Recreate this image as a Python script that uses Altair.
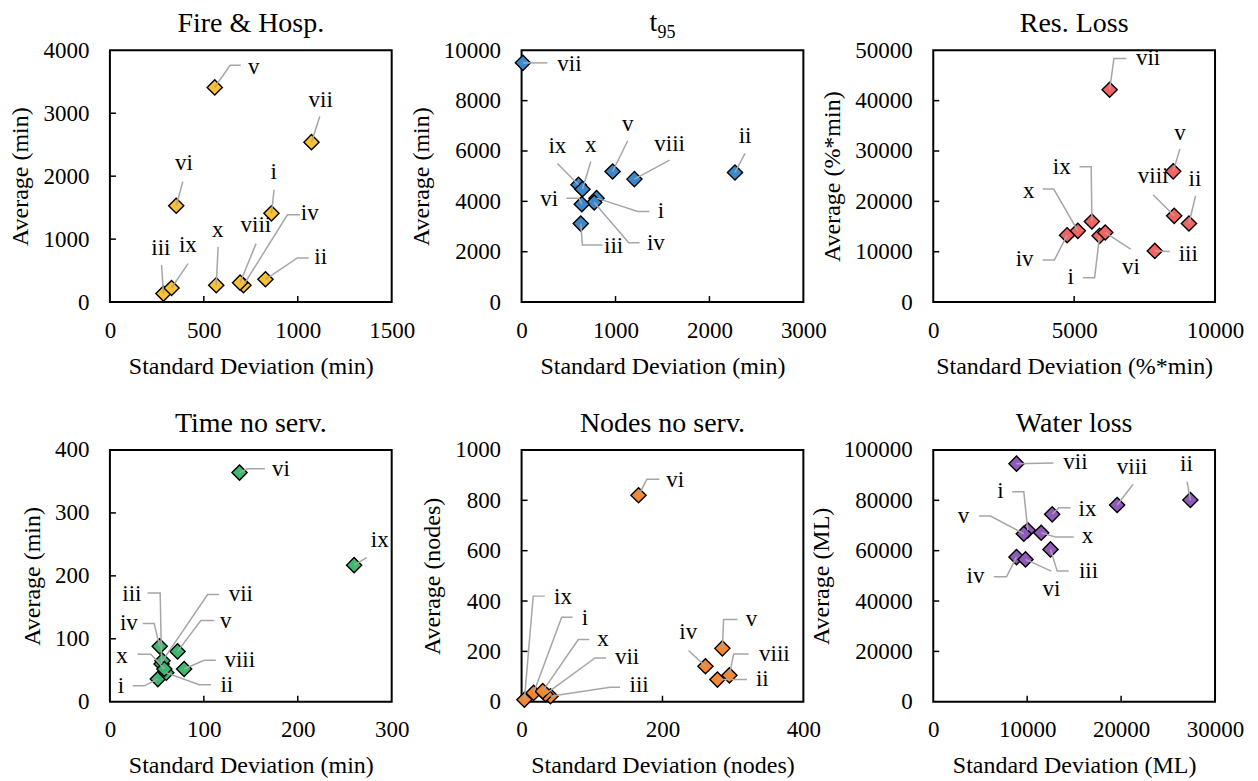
import altair as alt
import pandas as pd

FONT = "Liberation Serif"
W, H = 282, 252
names = ["i", "ii", "iii", "iv", "v", "vi", "vii", "viii", "ix", "x"]

# ---- Fire & Hosp. ----
fire_sd = [860, 828, 285, 711, 558, 353, 1073, 693, 328, 566]
fire_avg = [1410, 362, 135, 268, 3410, 1530, 2540, 308, 223, 268]
fire_lab_x = [872, 1122, 271, 1064, 766, 394, 1122, 777, 415, 574]
fire_lab_y = [2040, 685, 829, 1387, 3698, 2184, 3172, 1196, 877, 1116]
fire_bend_x = [874, 998, 275, 945, 640, 388, 1117, 778, 416, 576]
fire_bend_y = [1785, 701, 590, 1387, 3762, 1913, 2949, 929, 610, 877]
fire_end_x = [874, 1058, 275, 1012, 697, 388, 1117, 778, 416, 576]

# ---- t95 ----
t95_sd = [798, 2272, 630, 773, 969, 641, 14, 1201, 606, 648]
t95_avg = [4127, 5146, 3117, 3953, 5186, 3888, 9500, 4883, 4657, 4485]
t95_lab_x = [1483, 2379, 980, 1430, 1130, 295, 509, 1576, 381, 737]
t95_lab_y = [3542, 6515, 2149, 2269, 7005, 4020, 9393, 6209, 6117, 6169]
t95_bend_x = [1237, 2379, 648, 1141, 1130, 613, 274, 1576, 381, 737]
t95_bend_y = [3594, 5902, 2269, 2360, 6408, 4127, 9500, 5640, 5504, 5584]
t95_end_x = [1362, 2379, 862, 1255, 1130, 477, 274, 1576, 381, 737]

# ---- Res. Loss ----
res_sd = [5904, 9075, 7863, 4750, 8516, 6104, 6260, 8551, 5630, 5131]
res_avg = [13147, 15600, 10160, 13280, 25960, 13810, 42170, 17130, 16000, 14143]
res_lab_x = [4881, 9289, 9050, 3242, 8754, 7019, 7625, 7803, 4561, 3385]
res_lab_y = [4582, 24100, 9163, 8167, 33266, 6574, 48007, 24641, 26494, 21713]
res_bend_x = [5726, 9310, 8398, 4300, 8754, 7008, 6413, 7803, 5605, 4276]
res_bend_y = [4841, 21115, 10020, 8366, 30418, 10498, 48346, 21314, 26892, 22450]
res_end_x = [5309, 9310, 8398, 3884, 8754, 7008, 6852, 7803, 5191, 3884]

# ---- Time no serv. ----
time_sd = [51, 60, 55, 53, 72, 138, 56, 79, 260, 58]
time_avg = [36, 46, 60, 88, 80, 364, 65, 52, 217, 52]
time_lab_x = [11.7, 124.4, 23.4, 20.2, 123.4, 182, 139.4, 138.3, 287.3, 12.8]
time_lab_y = [22.1, 23.7, 167.5, 121.7, 124.8, 366.6, 167.5, 63.2, 254.4, 69.5]
time_bend_x = [36.5, 95, 53.5, 47.1, 96.8, 146.5, 104, 100.3, 273.4, 43.6]
time_bend_y = [25.3, 26.9, 172.7, 124.3, 129.1, 370.2, 170.2, 65.9, 229, 75.4]
time_end_x = [24.2, 107.5, 40.1, 34.8, 111, 165, 116.3, 112.8, 273.4, 29.5]

# ---- Nodes no serv. ----
nodes_sd = [17, 278, 41, 261, 285, 166, 34, 295, 4, 30]
nodes_avg = [35, 88, 22, 141, 212, 820, 30, 105, 8, 42]
nodes_lab_x = [90, 341.8, 166.9, 236.6, 326.2, 218, 149.8, 358.9, 58.7, 115.6]
nodes_lab_y = [324, 81.5, 57.6, 268.4, 320, 872.7, 169, 181, 407.5, 240.5]
nodes_bend_x = [56.9, 320, 125.6, 237, 286.8, 177.8, 104.3, 301, 16.5, 80.5]
nodes_bend_y = [336, 88.3, 57.6, 203.6, 326.8, 883.5, 174.2, 190, 419.5, 247.3]
nodes_end_x = [72.5, 320, 139.8, 237, 306.7, 195.7, 119.9, 322.3, 33.1, 96.2]

# ---- Water loss ----
water_sd = [10065, 27377, 12481, 8863, 9640, 9821, 8863, 19578, 12662, 11491]
water_avg = [68070, 80116, 60514, 57453, 66718, 56538, 94550, 78130, 74430, 67115]
water_lab_x = [7161, 26951, 16524, 4501, 3224, 12587, 15141, 21174, 16418, 16418]
water_lab_y = [82900, 93636, 51091, 49102, 72960, 43935, 94430, 92323, 75743, 65008]
water_bend_x = [9640, 27026, 13194, 7799, 6097, 12555, 12800, 21280, 13364, 13013]
water_bend_y = [83416, 87392, 51887, 49620, 73755, 51887, 94827, 86359, 77055, 65406]
water_end_x = [8406, 27026, 14428, 6448, 4852, 12555, 12800, 21280, 14609, 14960]


def panel(sd, avg, lx, ly, bx, by, ex, xmax, xstep, ymax, ystep,
          xtitle, ytitle, color, title=None, extra=None):
    pts = pd.DataFrame({"name": names, "sd": sd, "avg": avg})
    rows = []
    for i, n in enumerate(names):
        rows.append({"name": n, "k": 0, "sd": sd[i], "avg": avg[i]})
        rows.append({"name": n, "k": 1, "sd": bx[i], "avg": by[i]})
        rows.append({"name": n, "k": 2, "sd": ex[i], "avg": by[i]})
    lead = pd.DataFrame(rows)
    labs = pd.DataFrame({"name": names, "sd": lx, "avg": ly})
    xvals = list(range(0, xmax + 1, xstep))
    yvals = list(range(0, ymax + 1, ystep))
    X = alt.X("sd:Q", scale=alt.Scale(domain=[0, xmax], nice=False, zero=False),
              axis=alt.Axis(values=xvals, title=xtitle, format="d"))
    Y = alt.Y("avg:Q", scale=alt.Scale(domain=[0, ymax], nice=False, zero=False),
              axis=alt.Axis(values=yvals, title=ytitle, format="d"))
    xt = alt.Chart(pd.DataFrame({"sd": xvals[1:-1]})).mark_rule(
        color="black", strokeWidth=1.5).encode(x=X, y=alt.value(H), y2=alt.value(H - 6))
    yt = alt.Chart(pd.DataFrame({"avg": yvals[1:-1]})).mark_rule(
        color="black", strokeWidth=1.5).encode(y=Y, x=alt.value(0), x2=alt.value(6))
    p = alt.Chart(pts).mark_point(shape="diamond", filled=True, fill=color,
                                  stroke="black", strokeWidth=1.4, size=230,
                                  opacity=1).encode(x=X, y=Y)
    ln = alt.Chart(lead).mark_line(color="#a6a6a6", strokeWidth=1.5).encode(
        x=X, y=Y, detail="name:N", order="k:Q")
    tx = alt.Chart(labs).mark_text(font=FONT, fontSize=23, color="black",
                                   baseline="middle", dy=-2).encode(
        x=X, y=Y, text="name:N")
    layers = [xt, yt, p, ln, tx]
    if extra:
        layers += extra
    ch = alt.layer(*layers).properties(width=W, height=H)
    if title:
        ch = ch.properties(title=title)
    return ch


t95_title = [
    alt.Chart(pd.DataFrame({"s": ["t"]})).mark_text(
        font=FONT, fontSize=28, align="left", baseline="alphabetic", color="black"
    ).encode(text="s:N", x=alt.value(W / 2 - 13), y=alt.value(-19)),
    alt.Chart(pd.DataFrame({"s": ["95"]})).mark_text(
        font=FONT, fontSize=18, align="left", baseline="alphabetic", color="black"
    ).encode(text="s:N", x=alt.value(W / 2 - 5), y=alt.value(-12)),
]

p1 = panel(fire_sd, fire_avg, fire_lab_x, fire_lab_y, fire_bend_x, fire_bend_y, fire_end_x,
           1500, 500, 4000, 1000, "Standard Deviation (min)", "Average (min)",
           "#FBC12F", title="Fire & Hosp.")
p2 = panel(t95_sd, t95_avg, t95_lab_x, t95_lab_y, t95_bend_x, t95_bend_y, t95_end_x,
           3000, 1000, 10000, 2000, "Standard Deviation (min)", "Average (min)",
           "#3B88CC", extra=t95_title)
p3 = panel(res_sd, res_avg, res_lab_x, res_lab_y, res_bend_x, res_bend_y, res_end_x,
           10000, 5000, 50000, 10000, "Standard Deviation (%*min)", "Average (%*min)",
           "#F26363", title="Res. Loss")
p4 = panel(time_sd, time_avg, time_lab_x, time_lab_y, time_bend_x, time_bend_y, time_end_x,
           300, 100, 400, 100, "Standard Deviation (min)", "Average (min)",
           "#3DB870", title="Time no serv.")
p5 = panel(nodes_sd, nodes_avg, nodes_lab_x, nodes_lab_y, nodes_bend_x, nodes_bend_y, nodes_end_x,
           400, 200, 1000, 200, "Standard Deviation (nodes)", "Average (nodes)",
           "#F5872F", title="Nodes no serv.")
p6 = panel(water_sd, water_avg, water_lab_x, water_lab_y, water_bend_x, water_bend_y, water_end_x,
           30000, 10000, 100000, 20000, "Standard Deviation (ML)", "Average (ML)",
           "#9159BA", title="Water loss")

chart = alt.concat(
    p1, p2, p3, p4, p5, p6, columns=3,
    spacing=alt.RowColnumber(row=148, column=130), bounds="flush"
).configure_view(
    stroke="black", strokeWidth=2
).configure_axis(
    grid=False, domain=False, ticks=False, tickSize=0, labelFlush=False,
    labelOverlap=False, labelBound=False,
    labelFont=FONT, labelFontSize=23, labelColor="black",
    titleFont=FONT, titleFontSize=24, titleFontWeight="normal", titleColor="black"
).configure_axisX(
    labelPadding=17, titlePadding=12
).configure_axisY(
    labelPadding=21, titlePadding=10
).configure_title(
    font=FONT, fontSize=28, fontWeight="normal", color="black",
    offset=1, baseline="alphabetic", anchor="middle"
).properties(
    padding={"left": 0, "top": 0, "right": 5, "bottom": 5}
)

chart.save("out.html", embed_options={"renderer": "svg", "actions": False})
